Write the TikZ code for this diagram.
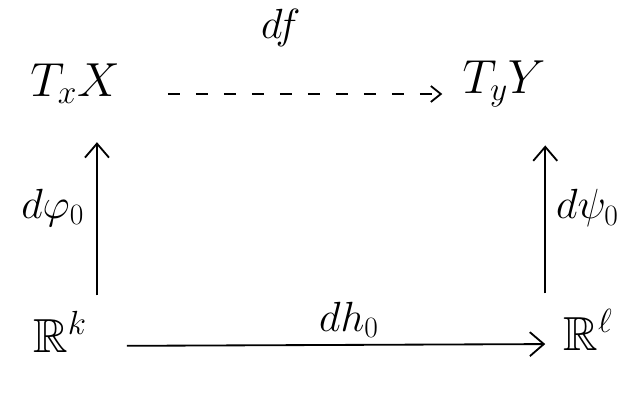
\RequirePackage{fix-cm}
\documentclass[tikz,border=0pt]{standalone}
\usepackage{amsmath,amssymb}
\usepackage{tikz}
\usetikzlibrary{arrows.meta,positioning}

\begin{document}
\begin{tikzpicture}[
  obj/.style={inner sep=0pt,font=\fontsize{34}{40}\selectfont},
  lbl/.style={inner sep=0pt,font=\fontsize{30}{36}\selectfont},
  arr/.style={line width=1.3pt,-{Straight Barb[length=3.5mm,width=6mm,line width=1.3pt]}},
  darr/.style={line width=1.3pt,dash pattern=on 3mm off 4mm,-{Straight Barb[length=2.5mm,width=4mm,line width=1.3pt]}}]
  \useasboundingbox (0,0) rectangle (16,10.05);
  \node[obj] (TxX) at (1.875,7.95) {$T_xX$};
  \node[obj] (TyY) at (12.6,7.95) {$T_yY$};
  \node[obj] (Rk) at (1.5,1.75) {$\mathbb{R}^k$};
  \node[obj] (Rl) at (14.7,1.8) {$\mathbb{R}^\ell$};
  \draw[darr,shorten <=12mm,shorten >=5mm] ([yshift=-2.5mm]TxX.east) -- node[lbl,pos=0.47,above=1.15cm] {$df$} ([yshift=-2.5mm]TyY.west);
  \draw[arr,shorten <=4mm,shorten >=9.5mm] ([xshift=2.5mm]Rk.north east) -- node[lbl,left=0.3cm] {$d\varphi_0$} ([xshift=2.5mm]Rk.north east |- TxX.south);
  \draw[arr,shorten <=4mm,shorten >=9.5mm] ([xshift=-4.5mm]Rl.north west) -- node[lbl,right=0.25cm] {$d\psi_0$} ([xshift=-4.5mm]Rl.north west |- TyY.south);
  \draw[arr,shorten <=10mm,shorten >=4.5mm] ([yshift=-3.5mm]Rk.east) -- node[lbl,pos=0.55,above=0.15cm] {$dh_0$} ([yshift=-3.5mm]Rl.west);
\end{tikzpicture}
\end{document}
